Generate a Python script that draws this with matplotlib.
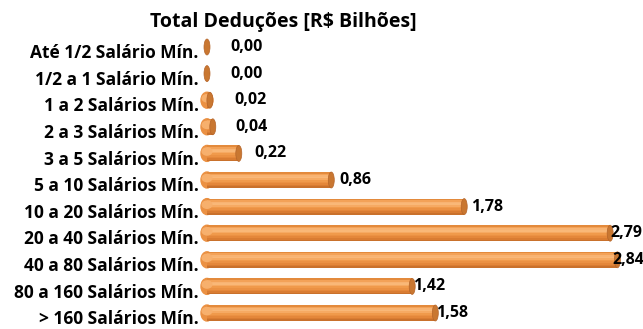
import numpy as np
import matplotlib.pyplot as plt
import matplotlib.transforms as mtransforms
from matplotlib.patches import Ellipse

plt.rcParams['font.family'] = ['Open Sans', 'DejaVu Sans']

faixas = ['Até 1/2 Salário Mín.', '1/2 a 1 Salário Mín.', '1 a 2 Salários Mín.',
          '2 a 3 Salários Mín.', '3 a 5 Salários Mín.', '5 a 10 Salários Mín.',
          '10 a 20 Salários Mín.', '20 a 40 Salários Mín.', '40 a 80 Salários Mín.',
          '80 a 160 Salários Mín.', '> 160 Salários Mín.']
deducoes = [0.00, 0.00, 0.02, 0.04, 0.22, 0.86, 1.78, 2.79, 2.84, 1.42, 1.58]

# horizontal nudge of each value label, in pixels
label_dx = [23, 23, 24, 23, 16, 8, 7, 0, -5, 1, 1]

W, H = 643, 329
fig = plt.figure(figsize=(W / 100, H / 100), dpi=100)
ax = fig.add_axes([207 / W, 0, 436 / W, 1])

px = 144.5          # pixels per unit on x
row = 26.6          # pixels per row
top = 47            # pixel row of first bar
ax.set_xlim(0, 436 / px)
ax.set_ylim((H - top) / row, -top / row)

h = 0.6
cap_w = 6 / px
end_w = 12 / px
cap = '#C97731'

# cylinder shading: bands from top edge to bottom edge
bands = ['#E38A3C', '#F3A258', '#F8B372', '#F9B878', '#F6AA63', '#F09A4B',
         '#EB9143', '#E4873A', '#D97C32', '#C9712C']
nb = len(bands)
bh = h / nb

y = np.arange(len(deducoes))
for k, c in enumerate(bands):
    yc = y - h / 2 + bh * (k + 0.5)
    ax.barh(yc, deducoes, height=bh * 1.05, color=c, edgecolor='none', zorder=2)

for i, v in enumerate(deducoes):
    # rounded left end
    if v > 0:
        ax.add_patch(Ellipse((0, i), end_w, h, color='#EB9143', zorder=1.9, clip_on=False))
        ax.add_patch(Ellipse((0, i - h * 0.12), end_w * 0.8, h * 0.45, color='#F7B06D',
                             zorder=2.2, clip_on=False))
    # flat cap on the right
    ax.add_patch(Ellipse((v, i), cap_w, h, facecolor=cap, edgecolor='#B5652A',
                         lw=0.5, zorder=4, clip_on=False))
    ax.annotate(f'{v:.2f}'.replace('.', ','), (v, i), xytext=(label_dx[i] * 0.72, 0),
                textcoords='offset points', ha='left', va='center',
                fontsize=11.5, fontweight='bold', zorder=5)

ax.set_yticks(y)
ax.set_yticklabels(faixas, fontsize=12.5, fontweight='bold')
ax.tick_params(axis='y', length=0, pad=6)
shift = mtransforms.ScaledTranslation(0, -3 / 72, fig.dpi_scale_trans)
for lab in ax.get_yticklabels():
    lab.set_transform(lab.get_transform() + shift)
ax.set_xticks([])
for s in ax.spines.values():
    s.set_visible(False)

fig.text(283 / W, 1 - 22 / H, 'Total Deduções [R$ Bilhões]', ha='center', va='center',
         fontsize=14, fontweight='bold')

fig.savefig('out.png', dpi=100)
